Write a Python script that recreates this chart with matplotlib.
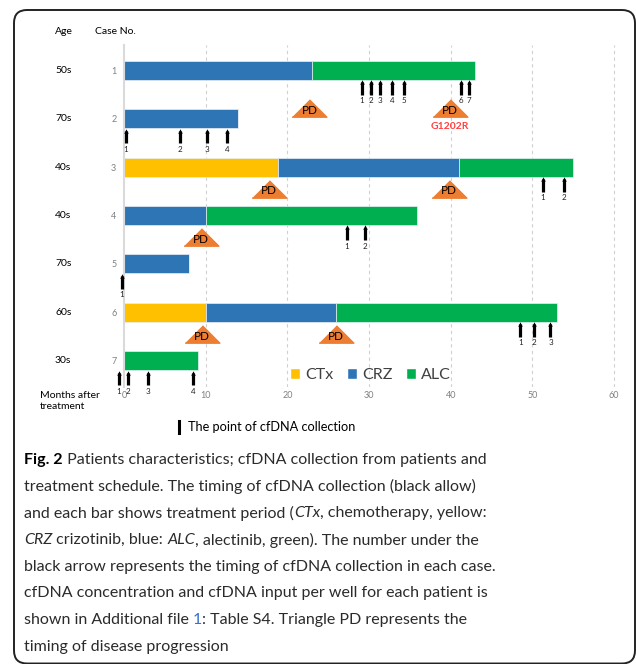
"""Treatment schedule / cfDNA collection timeline (Fig. 2)."""
import matplotlib
matplotlib.use("Agg")
import matplotlib.pyplot as plt
import numpy as np
from matplotlib.patches import Patch, FancyBboxPatch
from matplotlib.lines import Line2D

plt.rcParams["font.family"] = ["Lato", "DejaVu Sans"]

# ---- data ----
cases = [1, 2, 3, 4, 5, 6, 7]
ages = ["50s", "70s", "40s", "40s", "70s", "60s", "30s"]
# months of each treatment (stacked in this order)
ctx_months = [0, 0, 18.9, 0, 0, 10.0, 0]
crz_months = [23.0, 14.0, 22.1, 10.0, 8.0, 16.0, 0]
alc_months = [20.0, 0, 13.9, 25.9, 0, 27.0, 9.0]

# cfDNA collection points (months after treatment start)
collect_case1 = [29.1, 30.2, 31.3, 32.8, 34.3, 41.3, 42.2]
collect_case2 = [0.2, 6.9, 10.1, 12.6]
collect_case3 = [51.3, 53.9]
collect_case4 = [27.3, 29.5]
collect_case5 = [-0.25]
collect_case6 = [48.5, 50.2, 52.2]
collect_case7 = [-0.6, 0.45, 2.9, 8.5]
collections = [collect_case1, collect_case2, collect_case3, collect_case4,
               collect_case5, collect_case6, collect_case7]

# progressive disease
pd_case = [1, 1, 3, 3, 4, 6, 6]
pd_month = [22.7, 39.9, 17.7, 39.8, 9.4, 9.5, 25.9]
mutation_case = 1
mutation_month = 39.9
mutation_label = "G1202R"

month_ticks = [0, 10, 20, 30, 40, 50, 60]

drug_labels = ["CTx", "CRZ", "ALC"]
drug_colors = ["#FFC000", "#2E75B6", "#00B050"]

caption_lines = [
    [("Fig. 2", "bold"), (" Patients characteristics; cfDNA collection from patients and", "")],
    [("treatment schedule. The timing of cfDNA collection (black allow)", "")],
    [("and each bar shows treatment period (", ""), ("CTx", "italic"),
     (", chemotherapy, yellow:", "")],
    [("CRZ", "italic"), (" crizotinib, blue: ", ""), ("ALC", "italic"),
     (", alectinib, green). The number under the", "")],
    [("black arrow represents the timing of cfDNA collection in each case.", "")],
    [("cfDNA concentration and cfDNA input per well for each patient is", "")],
    [("shown in Additional file ", ""), ("1", "blue"),
     (": Table S4. Triangle PD represents the", "")],
    [("timing of disease progression", "")],
]

W, H = 636, 664
fig = plt.figure(figsize=(W / 100, H / 100), dpi=100)


def fx(x):
    return x / W


def fy(y):
    return 1 - y / H


# ---- chart axes ----
ax = fig.add_axes([fx(124), fy(387), 500 / W, (387 - 45) / H])
ax.set_xlim(0, 61.2)
ax.set_ylim(7.543, 0.477)

ctx = np.array(ctx_months)
crz = np.array(crz_months)
alc = np.array(alc_months)
bar_h = 0.39
for vals, left, color in [(ctx, 0, drug_colors[0]),
                          (crz, ctx, drug_colors[1]),
                          (alc, ctx + crz, drug_colors[2])]:
    ax.barh(cases, vals, left=left, height=bar_h, color=color,
            edgecolor="#E8EEF5", linewidth=0.5, zorder=2)

# grid + axis
for m in month_ticks[1:]:
    ax.axvline(m, color="#D0D0D0", lw=0.8, ls=(0, (3, 3)), zorder=0)
for side in ["top", "right", "bottom"]:
    ax.spines[side].set_visible(False)
ax.spines["left"].set_color("#DADADA")
ax.spines["left"].set_linewidth(1.5)
ax.set_xticks(month_ticks)
ax.set_xticklabels([str(m) for m in month_ticks], fontsize=6.5, color="#808080")
ax.set_yticks(cases)
ax.set_yticklabels([str(c) for c in cases], fontsize=6.5, color="#808080")
ax.tick_params(axis="x", length=0, pad=3)
ax.tick_params(axis="y", length=0, pad=5.5)

# collection arrows: thick shaft + small head
for case, points in zip(cases, collections):
    for k, m in enumerate(points, start=1):
        ax.plot([m, m], [case + 0.25, case + 0.51], color="black", lw=2.3,
                solid_capstyle="butt", clip_on=False, zorder=3)
        ax.plot(m, case + 0.245, marker="^", markersize=3.2, color="black",
                markeredgewidth=0, clip_on=False, zorder=3)
        ax.text(m, case + 0.63, str(k), ha="center", va="center",
                fontsize=5.8, color="#222222", clip_on=False)

# PD triangles
tri = [(-0.5, -0.25), (0.5, -0.25), (0.0, 0.25)]
for case, m in zip(pd_case, pd_month):
    off = 0.78 if case == 1 else 0.45
    ax.plot(m, case + off, marker=tri, markersize=25, color="#ED7D31",
            linestyle="none", clip_on=False, zorder=3)
    ax.text(m, case + off + 0.04, "PD", ha="center", va="center",
            fontsize=8.5, color="black", zorder=4)
ax.text(mutation_month, mutation_case + 1.17, mutation_label, ha="center",
        va="center", fontsize=7.5, color="#FF4040", fontweight="bold")

# legend
handles = [Patch(facecolor=c, edgecolor="white", label=l)
           for c, l in zip(drug_colors, drug_labels)]
fig.legend(handles=handles, loc="center", bbox_to_anchor=(fx(370.5), fy(375)),
           ncol=3, frameon=False, fontsize=11.5, handlelength=0.64,
           handleheight=0.64, handletextpad=0.3, columnspacing=0.86,
           labelcolor="#404040", borderpad=0)

# row labels
fig.text(fx(55), fy(31), "Age", fontsize=7.5, va="center", ha="left")
fig.text(fx(95), fy(31), "Case No.", fontsize=7.5, va="center", ha="left")
for case, age in zip(cases, ages):
    y = ax.transData.transform((0, case))[1]
    fig.text(fx(55), y / H, age, fontsize=7.5, va="center", ha="left")
fig.text(fx(40), fy(401), "Months after\ntreatment", fontsize=7.5, va="center",
         ha="left", linespacing=1.25)

# collection key
fig.add_artist(Line2D([fx(179.3), fx(179.3)], [fy(421), fy(433)], lw=2.2, color="black"))
fig.text(fx(188), fy(427), "The point of cfDNA collection", fontsize=9.2,
         va="center", ha="left")

# caption with mixed styles
renderer = fig.canvas.get_renderer()


def run_width(s, size, **kw):
    t1 = fig.text(0, 0, "|" + s + "|", fontsize=size, **kw)
    t2 = fig.text(0, 0, "||", fontsize=size, **kw)
    w = t1.get_window_extent(renderer).width - t2.get_window_extent(renderer).width
    t1.remove()
    t2.remove()
    return w


cap_size = 11.5
for i, line in enumerate(caption_lines):
    x = 24
    y = 460 + i * 26.7
    for s, style in line:
        kw = {"color": "#2B2B2B"}
        if style == "bold":
            kw = {"color": "black", "fontweight": "bold"}
        elif style == "italic":
            kw["fontstyle"] = "italic"
        elif style == "blue":
            kw["color"] = "#3B6FD1"
        fig.text(fx(x), fy(y), s, fontsize=cap_size, va="center", ha="left", **kw)
        x += run_width(s, cap_size, **kw)

# rounded frame
frame = FancyBboxPatch((0.14, 0.005), 6.21, 6.535,
                       boxstyle="round,pad=0,rounding_size=0.13",
                       transform=fig.dpi_scale_trans, fill=False,
                       lw=1.4, ec="#222222")
fig.add_artist(frame)

fig.savefig("out.png", dpi=100)
